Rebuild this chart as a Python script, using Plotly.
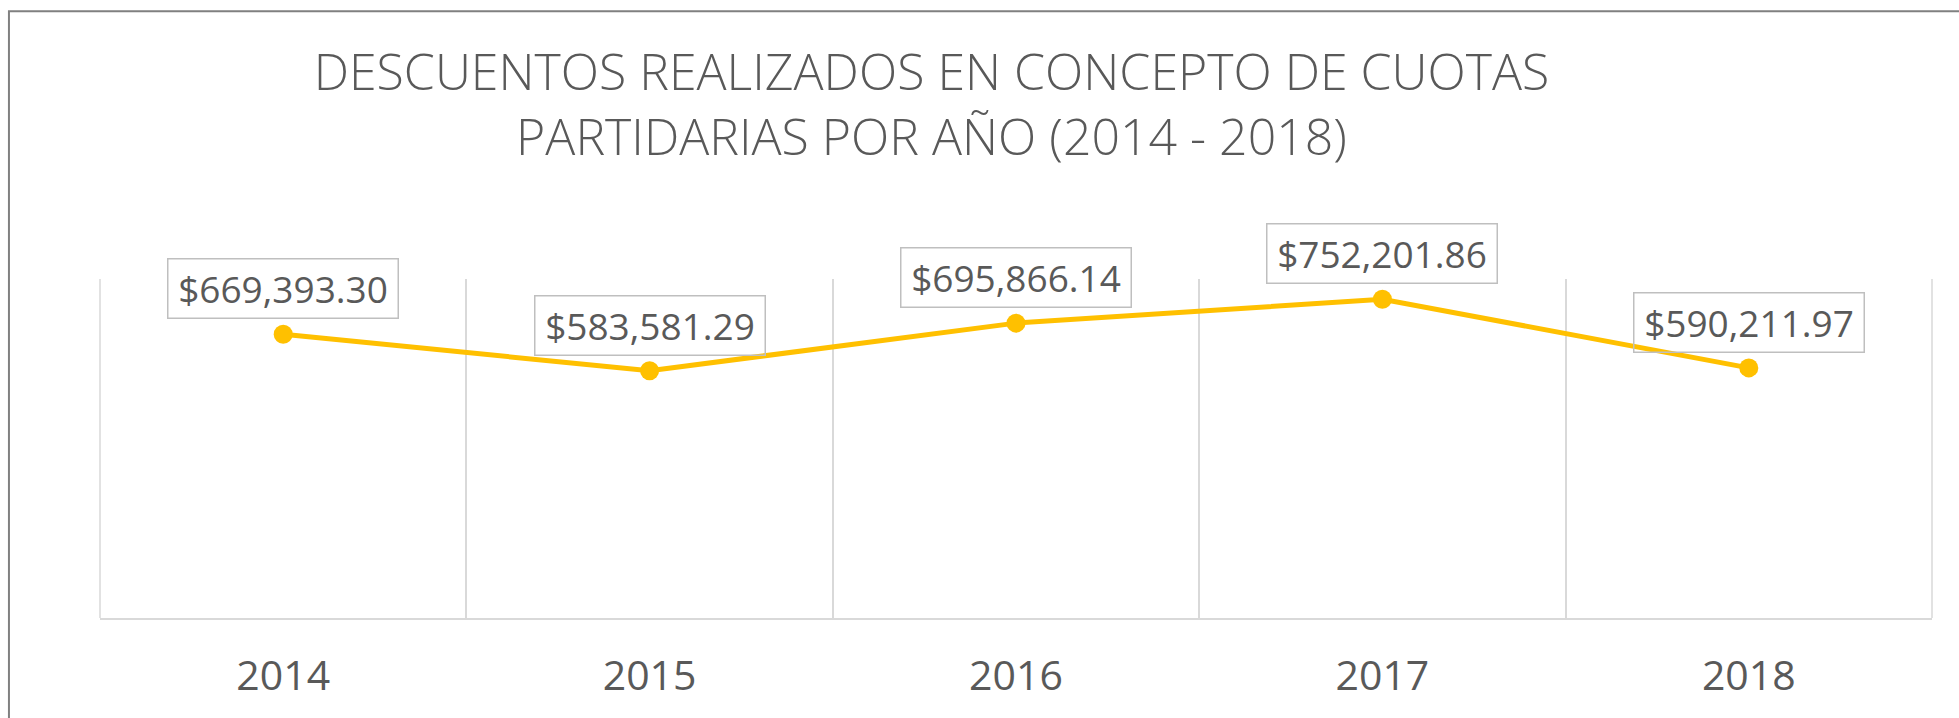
import plotly.graph_objects as go

years = ["2014", "2015", "2016", "2017", "2018"]
values = [669393.30, 583581.29, 695866.14, 752201.86, 590211.97]
labels = ["$669,393.30", "$583,581.29", "$695,866.14", "$752,201.86", "$590,211.97"]

title_text = "DESCUENTOS REALIZADOS EN CONCEPTO DE CUOTAS<br>PARTIDARIAS POR AÑO (2014 - 2018)"

TXT = "#595959"
GRID = "#D9D9D9"
LINE = "#FFC000"
FONT = "Open Sans"

fig = go.Figure()
fig.add_trace(go.Scatter(
    x=years, y=values, mode="lines+markers",
    line=dict(color=LINE, width=5),
    marker=dict(color=LINE, size=19),
    hoverinfo="skip",
))

for i, (v, lab) in enumerate(zip(values, labels)):
    fig.add_annotation(
        x=i, y=v, xref="x", yref="y", text=lab, showarrow=False,
        xanchor="center", yanchor="bottom", yshift=15,
        font=dict(family=FONT, size=37, color=TXT),
        bordercolor="#BFBFBF", borderwidth=1.5, borderpad=0,
        width=229, height=58,
        bgcolor="rgba(0,0,0,0)",
    )

# outer chart border (top and left only visible in reference)
fig.add_shape(type="rect", xref="paper", yref="paper",
              x0=-0.0497, x1=1.2, y0=-0.6, y1=1.79,
              line=dict(color="#808080", width=2), fillcolor="rgba(0,0,0,0)",
              layer="below")
# plot-area edge gridlines (left and right)
for xp in (0, 1):
    fig.add_shape(type="line", xref="paper", yref="paper",
                  x0=xp, x1=xp, y0=0, y1=1,
                  line=dict(color=GRID, width=1.5), layer="below")

fig.update_layout(
    width=1959, height=718,
    margin=dict(l=100, r=27, t=279, b=100, autoexpand=False),
    paper_bgcolor="white", plot_bgcolor="white",
    showlegend=False,
    title=dict(
        text=title_text, x=0.4755, xanchor="center",
        y=0.874, yanchor="top", yref="container",
        font=dict(family=FONT, size=50, color=TXT, weight=300),
    ),
    xaxis=dict(
        type="category", tickson="boundaries",
        showgrid=True, gridcolor=GRID, gridwidth=1.5,
        showline=True, linecolor=GRID, linewidth=2,
        ticks="", ticklabelstandoff=21,
        tickfont=dict(family=FONT, size=41, color=TXT),
        range=[-0.5, 4.5], fixedrange=True,
    ),
    yaxis=dict(
        range=[0, 800000], showgrid=False, showticklabels=False,
        zeroline=False, showline=False, fixedrange=True,
    ),
)

fig.write_html(
    "out.html",
    config={"displayModeBar": False},
    post_script="document.body.style.margin='0';document.body.style.overflow='hidden';",
)
